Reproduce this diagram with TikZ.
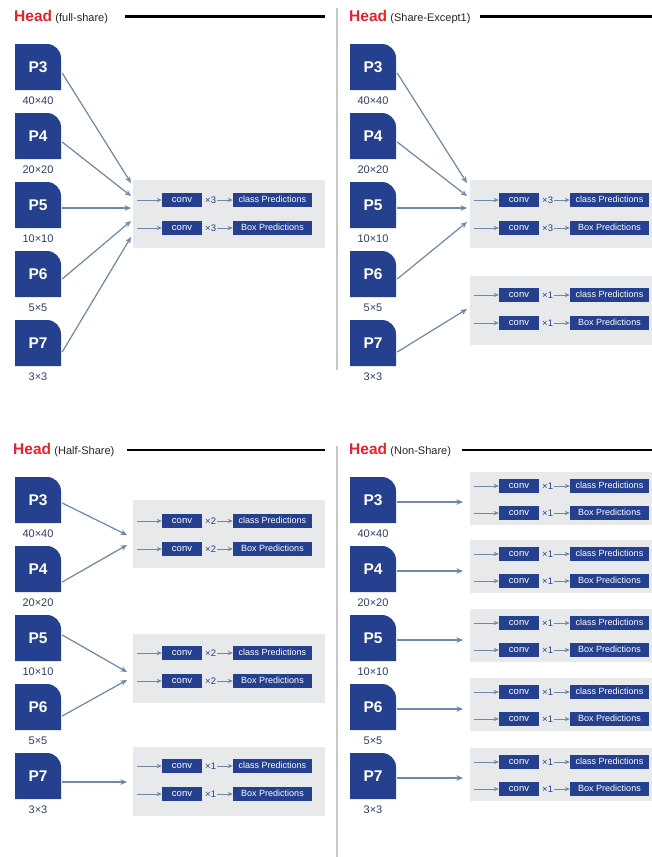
\documentclass[tikz,border=0pt]{standalone}
\usepackage{fontspec}
\setmainfont{Liberation Sans}
\usetikzlibrary{arrows.meta,calc}
\definecolor{pblue}{HTML}{25408F}
\definecolor{headred}{HTML}{E3242B}
\definecolor{boxgray}{HTML}{E8E9EB}
\definecolor{arr}{HTML}{6F87A8}
\definecolor{divgray}{HTML}{C8C8C8}
\definecolor{labcol}{HTML}{2E3E6B}
\newcommand\headw[1]{{\color{headred}\fontsize{15.5}{18}\selectfont\bfseries #1}}
\newcommand\headsub[1]{{\color{black!85}\fontsize{11}{13}\selectfont #1}}
% P feature block: name, x left, y top, text, label
\newcommand\pblock[5]{%
  \fill[pblue] (#2,#3+46) -- (#2,#3) -- (#2+32,#3) .. controls (#2+39.7,#3) and (#2+46,#3+6.3) .. (#2+46,#3+14) -- (#2+46,#3+46) -- cycle;
  \node[ptext] (#1) at (#2+23,#3+23) {#4};
  \node[plabel] (#1l) at (#2+23,#3+57) {#5};}
% one row: name, x of box left, y centre, multiplier, text
\newcommand\hrow[5]{%
  \coordinate (#1s) at (#2+4,#3);
  \node[convbox] (#1c) at (#2+49,#3) {conv};
  \node[mult, anchor=west] (#1m) at (#2+71,#3) {×#4};
  \node[predbox] (#1p) at (#2+139.5,#3) {#5};
  \draw[inarrow] (#1s) -- (#1c);
  \draw[inarrow] (#1m) -- (#1p);}
% grey block: name, x, y top, width, height, row1 offset, row2 offset, multiplier
\newcommand\headblock[8]{%
  \node[graybox, minimum width=#4pt, minimum height=#5pt, anchor=north west] (#1) at (#2,#3) {};
  \hrow{#1a}{#2}{#3+#6}{#8}{class Predictions}
  \hrow{#1b}{#2}{#3+#7}{#8}{Box Predictions}}
\begin{document}
\begin{tikzpicture}[x=1pt,y=-1pt,
  ptext/.style={text=white, font=\fontsize{15.5}{18}\selectfont\bfseries, minimum width=46pt, minimum height=46pt, inner sep=0pt},
  plabel/.style={text=labcol, font=\fontsize{11}{13}\selectfont, inner sep=0pt},
  convbox/.style={fill=pblue, text=white, font=\fontsize{9.5}{11}\selectfont, minimum width=40pt, minimum height=14pt, inner sep=0pt, text height=6.6pt, text depth=1.4pt},
  predbox/.style={fill=pblue, text=white, font=\fontsize{9}{11}\selectfont, minimum width=79pt, minimum height=14pt, inner sep=0pt, text height=6.6pt, text depth=1.4pt},
  mult/.style={text=pblue, font=\fontsize{9.5}{12}\selectfont, inner sep=1pt, text height=7pt, text depth=1pt},
  inarrow/.style={draw=arr, line width=1pt, -{Stealth[length=5pt,width=4.2pt]}},
  parrow/.style={draw=arr, line width=1.2pt, -{Stealth[length=6.5pt,width=5.5pt]}},
  hline/.style={line width=2.6pt, black},
  graybox/.style={fill=boxgray, inner sep=0pt},
  headtext/.style={inner sep=0pt, anchor=base west}]
\useasboundingbox[fill=white] (0,0) rectangle (652,857);

% dividers
\draw[divgray, line width=1.2pt] (337,8) -- (337,370);
\draw[divgray, line width=1.2pt] (337,446) -- (337,857);

% headings
\node[headtext] (ha) at (14,21) {\headw{Head}\,\,\headsub{(full-share)}};
\node[headtext] (hb) at (349,21) {\headw{Head}\,\,\headsub{(Share-Except1)}};
\node[headtext] (hc) at (13,454) {\headw{Head}\,\,\headsub{(Half-Share)}};
\node[headtext] (hd) at (349,454) {\headw{Head}\,\,\headsub{(Non-Share)}};
\coordinate (las) at (125,16.5); \coordinate (lae) at (325,16.5);
\coordinate (lbs) at (480,16.5); \coordinate (lbe) at (652,16.5);
\coordinate (lcs) at (127,450); \coordinate (lce) at (325,450);
\coordinate (lds) at (462,450); \coordinate (lde) at (652,450);
\draw[hline] (las) -- (lae);
\draw[hline] (lbs) -- (lbe);
\draw[hline] (lcs) -- (lce);
\draw[hline] (lds) -- (lde);

% ---------- panel A: full-share ----------
\pblock{a3}{15}{44}{P3}{40×40}
\pblock{a4}{15}{113}{P4}{20×20}
\pblock{a5}{15}{182}{P5}{10×10}
\pblock{a6}{15}{251}{P6}{5×5}
\pblock{a7}{15}{320}{P7}{3×3}
\headblock{ga}{133}{180}{192}{68}{20}{48}{3}
\coordinate (ta3) at (131,183);
\coordinate (ta4) at (131,196);
\coordinate (ta5) at (131,208);
\coordinate (ta6) at (131,221);
\coordinate (ta7) at (131,237);
\draw[parrow] ($(a3.east)+(1,6)$) -- (ta3);
\draw[parrow] ($(a4.east)+(1,6)$) -- (ta4);
\draw[parrow] ($(a5.east)+(1,3)$) -- (ta5);
\draw[parrow] ($(a6.east)+(1,5)$) -- (ta6);
\draw[parrow] ($(a7.east)+(1,9)$) -- (ta7);

% ---------- panel B: share-except1 ----------
\pblock{b3}{350}{44}{P3}{40×40}
\pblock{b4}{350}{113}{P4}{20×20}
\pblock{b5}{350}{182}{P5}{10×10}
\pblock{b6}{350}{251}{P6}{5×5}
\pblock{b7}{350}{320}{P7}{3×3}
\headblock{gba}{470}{180}{182}{68}{20}{48}{3}
\headblock{gbb}{470}{276}{182}{69}{19}{47}{1}
\coordinate (tb3) at (467,183);
\coordinate (tb4) at (467,196);
\coordinate (tb5) at (467,208);
\coordinate (tb6) at (467,222);
\coordinate (tb7) at (467,309);
\draw[parrow] ($(b3.east)+(1,6)$) -- (tb3);
\draw[parrow] ($(b4.east)+(1,6)$) -- (tb4);
\draw[parrow] ($(b5.east)+(1,3)$) -- (tb5);
\draw[parrow] ($(b6.east)+(1,5)$) -- (tb6);
\draw[parrow] ($(b7.east)+(1,9)$) -- (tb7);

% ---------- panel C: half-share ----------
\pblock{c3}{15}{477}{P3}{40×40}
\pblock{c4}{15}{546}{P4}{20×20}
\pblock{c5}{15}{615}{P5}{10×10}
\pblock{c6}{15}{684}{P6}{5×5}
\pblock{c7}{15}{753}{P7}{3×3}
\headblock{gca}{133}{500}{192}{68}{21}{49}{2}
\headblock{gcb}{133}{634}{192}{69}{19}{47}{2}
\headblock{gcc}{133}{747}{192}{69}{19}{47}{1}
\coordinate (tc3) at (127,535);
\coordinate (tc4) at (127,545);
\coordinate (tc5) at (127,672);
\coordinate (tc6) at (127,680);
\coordinate (tc7) at (127,782);
\draw[parrow] ($(c3.east)+(1,3)$) -- (tc3);
\draw[parrow] ($(c4.east)+(1,13)$) -- (tc4);
\draw[parrow] ($(c5.east)+(1,-3)$) -- (tc5);
\draw[parrow] ($(c6.east)+(1,9)$) -- (tc6);
\draw[parrow] ($(c7.east)+(1,6)$) -- (tc7);

% ---------- panel D: non-share ----------
\pblock{d3}{350}{477}{P3}{40×40}
\pblock{d4}{350}{546}{P4}{20×20}
\pblock{d5}{350}{615}{P5}{10×10}
\pblock{d6}{350}{684}{P6}{5×5}
\pblock{d7}{350}{753}{P7}{3×3}
\headblock{gda}{470}{472}{182}{53}{14}{41}{1}
\headblock{gdb}{470}{540}{182}{53}{14}{41}{1}
\headblock{gdc}{470}{609}{182}{53}{14}{41}{1}
\headblock{gdd}{470}{678}{182}{53}{14}{41}{1}
\headblock{gde}{470}{748}{182}{53}{14}{41}{1}
\coordinate (td3) at (463,502);
\coordinate (td4) at (463,571);
\coordinate (td5) at (463,640);
\coordinate (td6) at (463,709);
\coordinate (td7) at (463,778);
\draw[parrow] ($(d3.east)+(1,2)$) -- (td3);
\draw[parrow] ($(d4.east)+(1,2)$) -- (td4);
\draw[parrow] ($(d5.east)+(1,2)$) -- (td5);
\draw[parrow] ($(d6.east)+(1,2)$) -- (td6);
\draw[parrow] ($(d7.east)+(1,2)$) -- (td7);
\end{tikzpicture}
\end{document}
